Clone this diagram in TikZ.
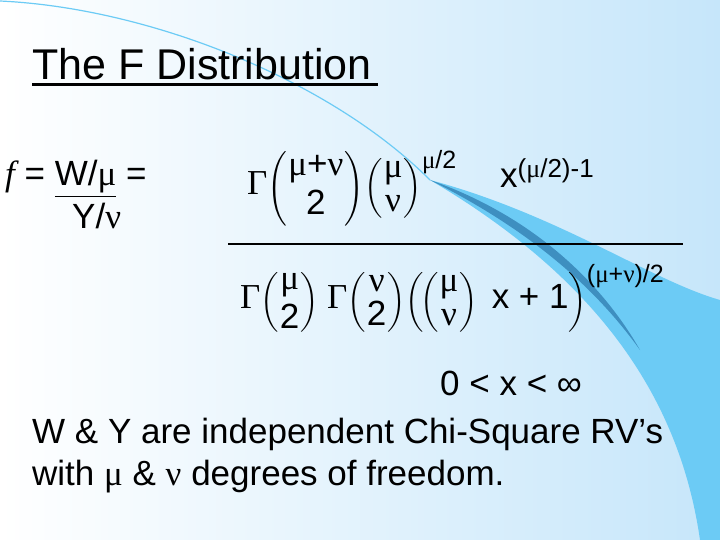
\documentclass[tikz,border=0pt]{standalone}
\usepackage{amsmath}
\usepackage{fontspec}
\setmainfont{Liberation Sans}
\newfontfamily\gkf{Liberation Serif}
\newcommand{\gk}[1]{\hbox{\gkf #1}}
\newcommand{\tx}[1]{\hbox{#1}}
\newcommand{\fr}[2]{\genfrac{}{}{0pt}{0}{#1}{#2}}
\newcommand{\ul}[1]{\underline{#1}}
\definecolor{lb}{HTML}{C6E6FA}
\definecolor{cy}{HTML}{6CCBF5}
\definecolor{db}{HTML}{3E8FC0}
\begin{document}
\begin{tikzpicture}[x=1pt,y=-1pt,
  txt/.style={inner sep=0pt,anchor=base west,font=\fontsize{35}{40}\selectfont},
  mth/.style={inner sep=0pt,font=\fontsize{35}{40}\selectfont}]
\useasboundingbox (0,0) rectangle (720,540);
\shade[left color=white,right color=lb] (0,0) rectangle (720,540);
% swoosh
\fill[cy] (430,180) .. controls (560,215) and (650,280) .. (720,300) -- (720,540) -- (700,540) .. controls (680,400) and (600,280) .. (430,180) -- cycle;
\fill[db] (430,180) .. controls (530,215) and (600,280) .. (640,350) .. controls (590,280) and (520,225) .. (430,180) -- cycle;
\draw[cy,line width=1.2pt] (0,1) .. controls (150,8) and (330,80) .. (430,180);
% title
\node[txt,font=\fontsize{43}{48}\selectfont] (title) at (32,80) {The F Distribution};
\draw[line width=2.5pt] (title.south west) ++(0,4) -- ++(346,0);
% left part
\node[txt] (f) at (5,186) {\gk{\itshape f} = \ul{W/\gk{μ}} =};
\node[txt] (y) at (72,229) {Y/\gk{ν}};
% numerator
\node[mth,anchor=west] (num) at (247,188) {$\gk{Γ}\!\left(\fr{\tx{\gk{μ}+\gk{ν}}}{\tx{2}}\right)\!\left(\fr{\gk{μ}}{\gk{ν}}\right)^{\tx{\fontsize{25}{28}\selectfont\gk{μ}/2}}$};
\node[txt] (xp) at (500,188) {x\raisebox{10pt}{\fontsize{26}{28}\selectfont(\gk{μ}/2)-1}};
\draw[line width=2.5pt] (228,244) -- (683,244) coordinate (fe);
% denominator
\node[mth,anchor=west] (den) at (240,298) {$\gk{Γ}\!\left(\fr{\gk{μ}}{\tx{2}}\right)\,\gk{Γ}\!\left(\fr{\gk{ν}}{\tx{2}}\right)\!\left(\!\left(\fr{\gk{μ}}{\gk{ν}}\right)\tx{ x + 1}\right)^{\tx{\fontsize{25}{28}\selectfont(\gk{μ}+\gk{ν})/2}}$};
\node[txt] (ineq) at (440,395) {0 < x < ∞};
\node[txt] (l1) at (32,443) {W \& Y are independent Chi-Square RV’s};
\node[txt] (l2) at (32,485) {with \gk{μ} \& \gk{ν} degrees of freedom.};
\end{tikzpicture}
\end{document}
